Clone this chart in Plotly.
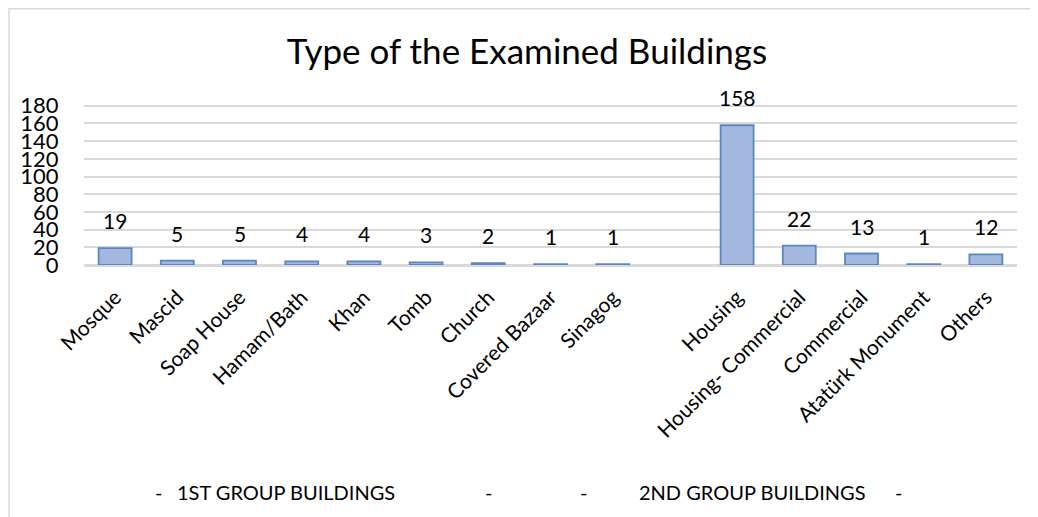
import plotly.graph_objects as go

title_text = "Type of the Examined Buildings"
group1_categories = ["Mosque", "Mascid", "Soap House", "Hamam/Bath", "Khan", "Tomb",
                     "Church", "Covered Bazaar", "Sinagog"]
group1_values = [19, 5, 5, 4, 4, 3, 2, 1, 1]
group2_categories = ["Housing", "Housing- Commercial", "Commercial", "Atatürk Monument", "Others"]
group2_values = [158, 22, 13, 1, 12]
gap_category = " "
y_ticks = [0, 20, 40, 60, 80, 100, 120, 140, 160, 180]
legend_texts = ["-", "1ST GROUP BUILDINGS", "-", "-", "2ND GROUP BUILDINGS", "-"]

categories = group1_categories + [gap_category] + group2_categories
values = group1_values + [None] + group2_values

FONT = "Lato"
OFF = 8  # page body margin
W, H = 1038 - OFF, 517 - OFF
Y_MAX = 182
zero_px, top_px = 265, 106
unit = (zero_px - top_px) / 180.0
plot_top = zero_px - Y_MAX * unit
L, R = 84 - OFF, 21
T = plot_top - OFF
B = H - (zero_px - OFF)
pw = W - L - R
ph = H - T - B

def px_x(p):
    return (p - OFF - L) / pw

def px_y(p):
    return (H - B - (p - OFF)) / ph

fig = go.Figure()
fig.add_trace(go.Bar(
    x=categories, y=values,
    marker=dict(color="#a3b8df", line=dict(color="#5a86c6", width=1.8)),
    hoverinfo="x+y",
))

annotations = []
for c, v in zip(categories, values):
    if v is None:
        continue
    annotations.append(dict(x=c, y=v, xref="x", yref="y", text=str(v), showarrow=False,
                            yanchor="bottom", yshift=13,
                            font=dict(family=FONT, size=21, color="#000000")))

legend_px = [158, 286, 488, 583, 752, 898]
for t, p in zip(legend_texts, legend_px):
    annotations.append(dict(x=px_x(p), y=px_y(492), xref="paper", yref="paper", text=t,
                            showarrow=False, xanchor="center", yanchor="middle",
                            font=dict(family=FONT, size=20, color="#000000")))

fig.update_layout(
    width=W, height=H,
    margin=dict(l=L, r=R, t=T, b=B, pad=0, autoexpand=False),
    paper_bgcolor="white", plot_bgcolor="white",
    bargap=0.47,
    showlegend=False,
    title=dict(text=title_text, x=(527 - OFF) / W, xanchor="center", y=1 - (52 - OFF) / H,
               yanchor="middle", yref="container",
               font=dict(family=FONT, size=35, color="#000000")),
    xaxis=dict(type="category", categoryorder="array", categoryarray=categories,
               range=[-0.5, len(categories) - 0.5], automargin=False,
               tickangle=-45, showgrid=False, showline=True, linecolor="#d9d9d9", linewidth=1.5,
               ticks="outside", ticklen=10, tickcolor="rgba(0,0,0,0)",
               tickfont=dict(family=FONT, size=21, color="#000000")),
    yaxis=dict(range=[0, Y_MAX], tickvals=y_ticks, showgrid=True, gridcolor="#d9d9d9", gridwidth=1.5,
               zeroline=True, zerolinecolor="#d9d9d9", zerolinewidth=1.5, showline=False,
               automargin=False,
               ticks="outside", ticklen=20, tickcolor="rgba(0,0,0,0)",
               tickfont=dict(family=FONT, size=22, color="#000000")),
    annotations=annotations,
    shapes=[dict(type="rect", xref="paper", yref="paper",
                 x0=px_x(9), x1=px_x(1038 + 20), y0=px_y(517 + 20), y1=px_y(9),
                 line=dict(color="#d9d9d9", width=1.5), fillcolor="rgba(0,0,0,0)", layer="below")],
)

fig.write_html("out.html")
